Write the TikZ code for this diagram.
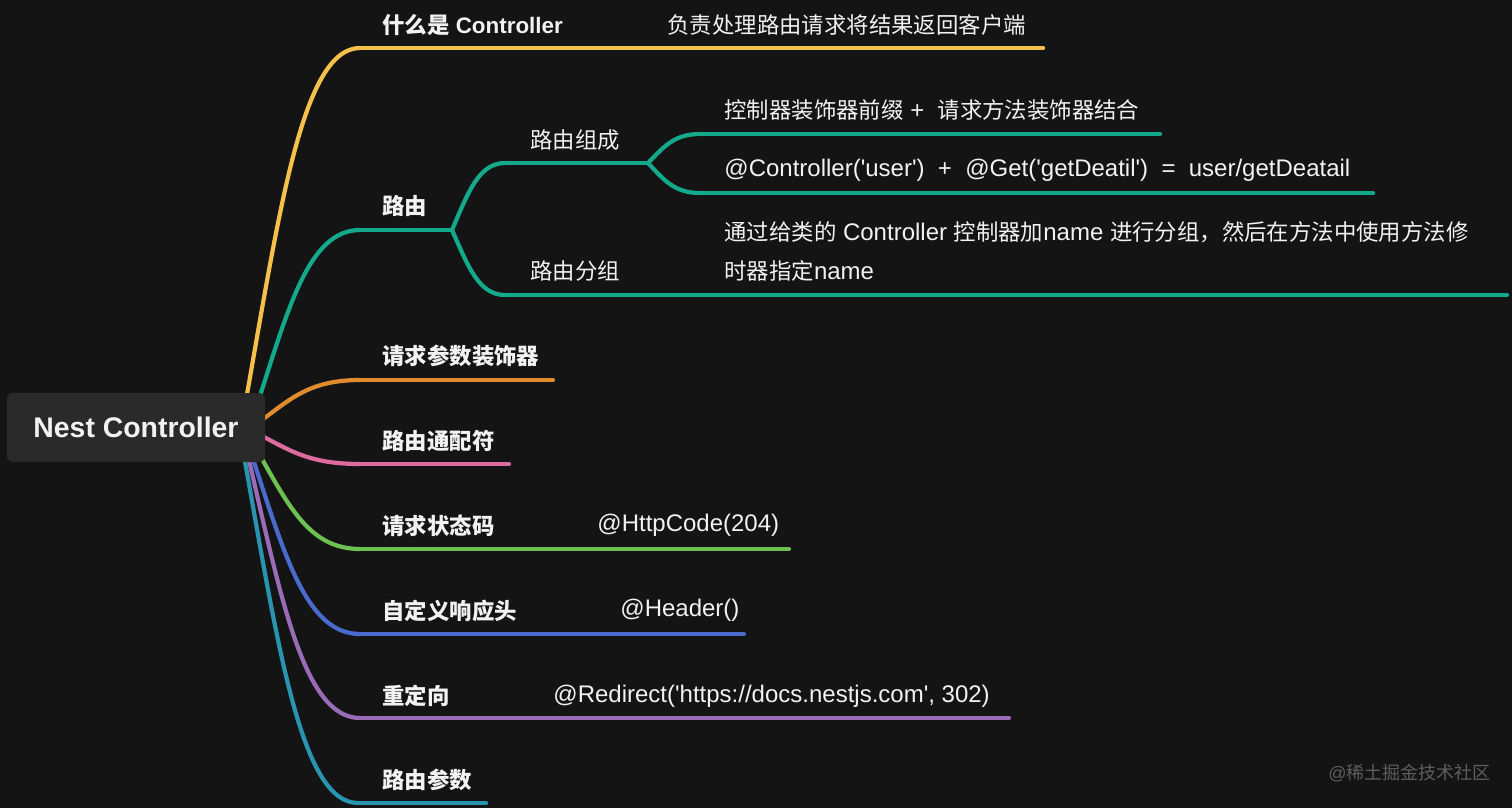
\documentclass[tikz,border=0pt]{standalone}
\usepackage{fontspec}
\setmainfont{Liberation Sans}
\newfontfamily\cjk{Noto Sans CJK SC}
\usetikzlibrary{calc}
\definecolor{bg}{HTML}{141414}
\definecolor{boxc}{HTML}{2A2A2A}
\definecolor{txt}{HTML}{F2F2F2}
\definecolor{cy}{HTML}{F6C14B}
\definecolor{ct}{HTML}{13A98B}
\definecolor{co}{HTML}{DF8B2E}
\definecolor{cp}{HTML}{DE6B9F}
\definecolor{cg}{HTML}{6CC152}
\definecolor{cb}{HTML}{4A6ACD}
\definecolor{cv}{HTML}{9A6CB7}
\definecolor{cc}{HTML}{2994B0}
\definecolor{wm}{HTML}{5E5E5E}
\newcommand\mmcurve[3]{\draw[br,#1] let \p1=(#2), \p2=(#3) in (\p1) .. controls ({\x1+0.3*(\x2-\x1)},{\y1+0.55*(\y2-\y1)}) and ({\x1+0.5*(\x2-\x1)},\y2) .. (\p2);}
\newcommand\q{\textquotesingle}
\newcommand\zh[1]{{\cjk\fontsize{11.2}{14}\selectfont #1}}
\begin{document}
\begin{tikzpicture}[x=0.5pt,y=-0.5pt,
  br/.style={line width=2.1pt,line cap=round},
  lab/.style={anchor=west,inner sep=0pt,text=txt,font=\fontsize{11.2}{14}\selectfont\bfseries},
  sub/.style={anchor=west,inner sep=0pt,text=txt,font=\fontsize{12}{14}\selectfont},
  rootbox/.style={fill=boxc,rounded corners=3pt,minimum width=129pt,minimum height=34.5pt,inner sep=0pt,text=txt,font=\fontsize{14.2}{17}\selectfont\bfseries}]
\fill[bg] (0,0) rectangle (1512,808);
\useasboundingbox (0,0) rectangle (1512,808);
% coordinates
\coordinate (sY) at (246,400); \coordinate (eY) at (360,48); \coordinate (fY) at (1043,48);
\coordinate (sT) at (258,402); \coordinate (eT) at (360,230); \coordinate (kT) at (452,230);
\coordinate (eT1) at (505,163); \coordinate (kT1) at (648,163);
\coordinate (eT11) at (700,134); \coordinate (fT11) at (1160,134);
\coordinate (eT12) at (700,193); \coordinate (fT12) at (1373,193);
\coordinate (eT2) at (505,295); \coordinate (fT2) at (1507,295);
\coordinate (sO) at (262,420); \coordinate (eO) at (360,380); \coordinate (fO) at (553,380);
\coordinate (sP) at (262,436); \coordinate (eP) at (360,464); \coordinate (fP) at (509,464);
\coordinate (sG) at (258,452); \coordinate (eG) at (360,549); \coordinate (fG) at (789,549);
\coordinate (sB) at (252,456); \coordinate (eB) at (360,634); \coordinate (fB) at (744,634);
\coordinate (sV) at (248,456); \coordinate (eV) at (360,718); \coordinate (fV) at (1009,718);
\coordinate (sC) at (244,456); \coordinate (eC) at (358,803); \coordinate (fC) at (486,803);
% connectors
\mmcurve{cy}{sY}{eY} \draw[br,cy] (eY) -- (fY);
\mmcurve{ct}{sT}{eT} \draw[br,ct] (eT) -- (kT);
\mmcurve{ct}{kT}{eT1} \draw[br,ct] (eT1) -- (kT1);
\mmcurve{ct}{kT1}{eT11} \draw[br,ct] (eT11) -- (fT11);
\mmcurve{ct}{kT1}{eT12} \draw[br,ct] (eT12) -- (fT12);
\mmcurve{ct}{kT}{eT2} \draw[br,ct] (eT2) -- (fT2);
\mmcurve{co}{sO}{eO} \draw[br,co] (eO) -- (fO);
\mmcurve{cp}{sP}{eP} \draw[br,cp] (eP) -- (fP);
\mmcurve{cg}{sG}{eG} \draw[br,cg] (eG) -- (fG);
\mmcurve{cb}{sB}{eB} \draw[br,cb] (eB) -- (fB);
\mmcurve{cv}{sV}{eV} \draw[br,cv] (eV) -- (fV);
\mmcurve{cc}{sC}{eC} \draw[br,cc] (eC) -- (fC);
% root
\node[rootbox] (root) at (136,427.5) {Nest Controller};
% labels
\node[lab] (what) at (382,25) {{\cjk 什么是} Controller};
\node[sub] (whatd) at (667,25) {\zh{负责处理路由请求将结果返回客户端}};
\node[lab] (route) at (382,206) {\cjk 路由};
\node[sub] (rcomp) at (530,140) {\zh{路由组成}};
\node[sub] (rc1) at (724,110) {\zh{控制器装饰器前缀} +\ \ \zh{请求方法装饰器结合}};
\node[sub] (rc2) at (724,170) {@Controller(\q user\q)\ \ +\ \ @Get(\q getDeatil\q)\ \ =\ \ user/getDeatail};
\node[sub] (rgrp) at (530,271) {\zh{路由分组}};
\node[sub,align=left,font=\fontsize{12}{19.5}\selectfont] (rg1) at (724,251.5) {\zh{通过给类的} Controller \zh{控制器加}name \zh{进行分组，然后在方法中使用方法修}\\\zh{时器指定}name};
\node[lab] (param) at (382,356) {\cjk 请求参数装饰器};
\node[lab] (wild) at (382,441) {\cjk 路由通配符};
\node[lab] (status) at (382,526) {\cjk 请求状态码};
\node[sub] (statusd) at (597,525) {@HttpCode(204)};
\node[lab] (header) at (382,611) {\cjk 自定义响应头};
\node[sub] (headerd) at (620,610) {@Header()};
\node[lab] (redir) at (382,696) {\cjk 重定向};
\node[sub] (redird) at (553,696) {@Redirect(\q https://docs.nestjs.com\q, 302)};
\node[lab] (rparam) at (382,780) {\cjk 路由参数};
\node[anchor=west,inner sep=0pt,text=wm,font=\fontsize{9}{11}\selectfont] (wmk) at (1328,773) {@{\cjk 稀土掘金技术社区}};
\end{tikzpicture}
\end{document}
